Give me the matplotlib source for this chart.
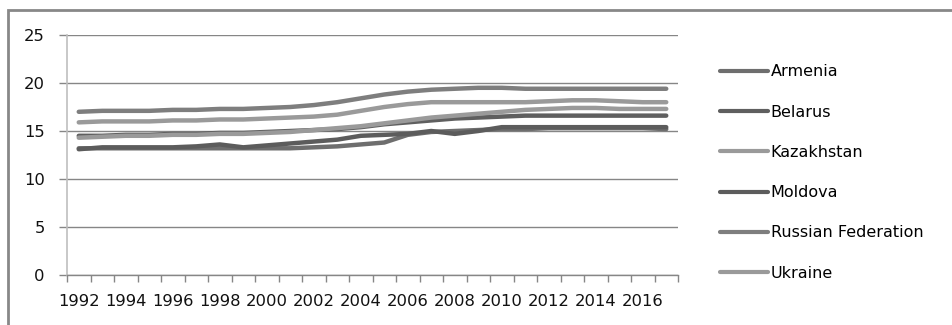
import matplotlib
matplotlib.use("Agg")
import matplotlib.pyplot as plt
from matplotlib.patches import Rectangle

years = list(range(1992, 2018))
tick_labels = [str(y) if y % 2 == 0 else "" for y in years]

armenia = [13.2, 13.2, 13.2, 13.2, 13.2, 13.2, 13.2, 13.2, 13.2, 13.2, 13.3, 13.4, 13.6,
           13.8, 14.6, 14.9, 15.0, 15.1, 15.2, 15.2, 15.3, 15.3, 15.3, 15.3, 15.3, 15.2]
belarus = [14.5, 14.5, 14.6, 14.6, 14.7, 14.7, 14.8, 14.8, 14.9, 15.0, 15.1, 15.2, 15.4,
           15.7, 15.9, 16.1, 16.3, 16.4, 16.5, 16.6, 16.6, 16.6, 16.6, 16.6, 16.6, 16.6]
kazakhstan = [14.3, 14.4, 14.5, 14.5, 14.6, 14.6, 14.7, 14.7, 14.8, 14.9, 15.1, 15.3, 15.5,
              15.8, 16.1, 16.4, 16.6, 16.8, 17.0, 17.2, 17.3, 17.4, 17.4, 17.3, 17.3, 17.3]
moldova = [13.1, 13.3, 13.3, 13.3, 13.3, 13.4, 13.6, 13.3, 13.5, 13.7, 13.9, 14.1, 14.5,
           14.6, 14.7, 15.0, 14.7, 15.0, 15.4, 15.4, 15.4, 15.4, 15.4, 15.4, 15.4, 15.4]
russia = [17.0, 17.1, 17.1, 17.1, 17.2, 17.2, 17.3, 17.3, 17.4, 17.5, 17.7, 18.0, 18.4,
          18.8, 19.1, 19.3, 19.4, 19.5, 19.5, 19.4, 19.4, 19.4, 19.4, 19.4, 19.4, 19.4]
ukraine = [15.9, 16.0, 16.0, 16.0, 16.1, 16.1, 16.2, 16.2, 16.3, 16.4, 16.5, 16.7, 17.1,
           17.5, 17.8, 18.0, 18.0, 18.0, 18.0, 18.0, 18.1, 18.2, 18.2, 18.1, 18.0, 18.0]

names = ["Armenia", "Belarus", "Kazakhstan", "Moldova", "Russian Federation", "Ukraine"]
series = [armenia, belarus, kazakhstan, moldova, russia, ukraine]
colors = ["#6e6e6e", "#5f5f5f", "#9a9a9a", "#5c5c5c", "#7e7e7e", "#9a9a9a"]

plt.rcParams['font.family'] = ['DejaVu Sans']

fig = plt.figure(figsize=(9.52, 3.25), dpi=100)
ax = fig.add_axes([67/952, 1 - 275/325, (678 - 67)/952, (275 - 35)/325])

x = list(range(len(years)))
handles = []
for name, vals, c in zip(names, series, colors):
    h, = ax.plot(x, vals, color=c, lw=3.2, solid_capstyle='round', solid_joinstyle='round')
    handles.append(h)

ax.set_xlim(-0.5, len(years) - 0.5)
ax.set_ylim(0, 25)
ax.set_yticks([0, 5, 10, 15, 20, 25])
ax.yaxis.grid(True, color="#868686", lw=1.0)
ax.set_axisbelow(True)

ax.set_xticks(x)
ax.set_xticklabels(tick_labels)
ax.set_xticks([i - 0.5 for i in range(len(years) + 1)], minor=True)
ax.tick_params(axis='x', which='major', length=0, pad=14, labelsize=11.8, colors='#111111')
ax.tick_params(axis='x', which='minor', length=5, width=1, color='#868686')
ax.tick_params(axis='y', length=6, width=1, color='#868686', labelsize=11.8, pad=10,
               labelcolor='#111111')

for s in ['top', 'right']:
    ax.spines[s].set_visible(False)
ax.spines['left'].set_color('#bfbfbf')
ax.spines['left'].set_linewidth(1.2)
ax.spines['bottom'].set_color('#868686')
ax.spines['bottom'].set_linewidth(1.0)

leg = fig.legend(handles, names, loc='upper left', bbox_to_anchor=(714/952, 1 - 58/325),
                 frameon=False, fontsize=11.5, handlelength=3.0, handletextpad=0.15,
                 labelspacing=1.58, borderaxespad=0)
for lh in leg.legend_handles:
    lh.set_linewidth(3.0)

# outer chart frame
fig.add_artist(Rectangle((8/952, -0.05), 2, 1.05 - 10/325, transform=fig.transFigure,
                         fill=False, edgecolor='#888888', lw=2.0))

fig.savefig("out.png", dpi=100)
